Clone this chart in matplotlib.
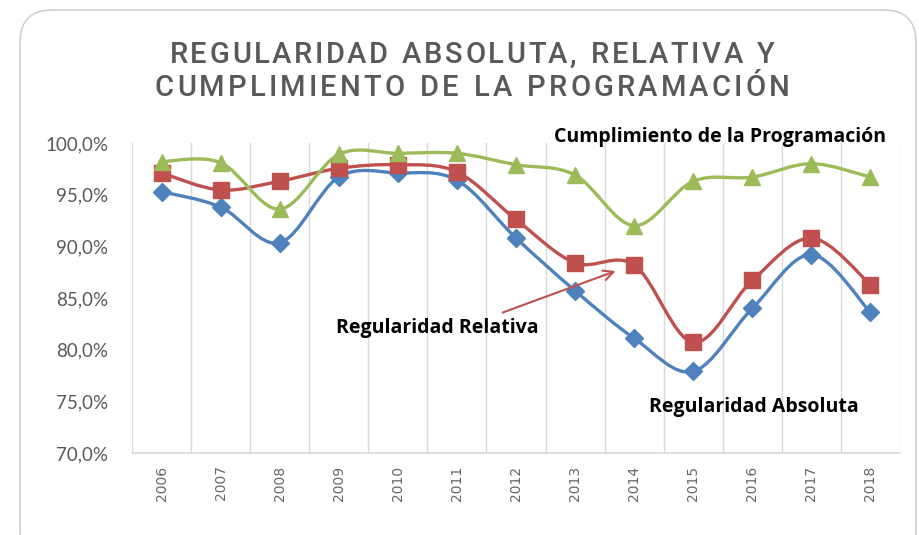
import numpy as np
import matplotlib
matplotlib.use("Agg")
import matplotlib.pyplot as plt
from matplotlib.path import Path
from matplotlib.patches import PathPatch, FancyBboxPatch

years = ["2006", "2007", "2008", "2009", "2010", "2011", "2012",
         "2013", "2014", "2015", "2016", "2017", "2018"]
absoluta = [95.3, 93.8, 90.35, 96.7, 97.1, 96.4, 90.8, 85.7, 81.1, 77.9, 84.0, 89.2, 83.6]
relativa = [97.1, 95.45, 96.3, 97.55, 97.9, 97.2, 92.6, 88.4, 88.2, 80.7, 86.7, 90.8, 86.3]
cumplimiento = [98.2, 98.1, 93.6, 98.9, 99.0, 99.0, 97.9, 96.9, 92.0, 96.3, 96.7, 98.0, 96.7]
yticks = [70, 75, 80, 85, 90, 95, 100]

blue = "#4f81bd"
red = "#c0504d"
green = "#9bbb59"
gray = "#595959"


def smooth_path(xs, ys):
    # excel-style smoothed line: bezier through every point
    pts = np.column_stack([xs, ys]).astype(float)
    n = len(pts)
    verts = [pts[0]]
    codes = [Path.MOVETO]
    for i in range(n - 1):
        p0 = pts[max(i - 1, 0)]
        p1 = pts[i]
        p2 = pts[i + 1]
        p3 = pts[min(i + 2, n - 1)]
        c1 = p1 + (p2 - p0) / 6.0
        c2 = p2 - (p3 - p1) / 6.0
        verts += [c1, c2, p2]
        codes += [Path.CURVE4] * 3
    return Path(verts, codes)


def spaced_text(fig, s, cx, cy, width, **kw):
    # place each letter so the line fills the given width (pixels)
    r = fig.canvas.get_renderer()
    ws = []
    for ch in s:
        t = fig.text(0, 0, ch if ch != " " else "n", **kw)
        ws.append(t.get_window_extent(r).width * (0.55 if ch == " " else 1.0))
        t.remove()
    gap = (width - sum(ws)) / (len(s) - 1)
    xp = cx - width / 2
    for ch, w in zip(s, ws):
        if ch != " ":
            fig.text(xp / 919, 1 - cy / 535, ch, ha="left", va="center", **kw)
        xp += w + gap


fig = plt.figure(figsize=(9.19, 5.35), dpi=100)
fig.patch.set_facecolor("white")

frame = FancyBboxPatch((20 / 919, -0.05), 896 / 919, 1.0 - 10 / 535 + 0.05,
                       boxstyle="round,pad=0,rounding_size=0.035",
                       transform=fig.transFigure, facecolor="none",
                       edgecolor="#d0d0d0", linewidth=1.2, mutation_aspect=919 / 535)
fig.patches.append(frame)

ax = fig.add_axes([132 / 919, 1 - 453 / 535, 768 / 919, 310 / 535])
ax.set_facecolor("none")
x = np.arange(len(years))
ax.set_xlim(-0.5, len(years) - 0.5)
ax.set_ylim(70, 100)

for b in np.arange(-0.5, len(years), 1.0):
    ax.axvline(b, color="#d9d9d9", lw=1.0, zorder=0)

for s in ["top", "right", "left"]:
    ax.spines[s].set_visible(False)
ax.spines["bottom"].set_color("#d9d9d9")
ax.spines["bottom"].set_linewidth(1.2)

series = [
    (absoluta, blue, "D", 9),
    (relativa, red, "s", 11),
    (cumplimiento, green, "^", 12),
]
for vals, col, mk, ms in series:
    ax.add_patch(PathPatch(smooth_path(x, vals), facecolor="none",
                           edgecolor=col, lw=2.4, zorder=3, capstyle="round"))
    ax.plot(x, vals, linestyle="none", marker=mk, markersize=ms,
            color=col, zorder=4)

ax.set_yticks(yticks)
ax.set_yticklabels([f"{v:.1f}%".replace(".", ",") for v in yticks],
                   fontsize=13.5, color=gray, family=["Lato", "DejaVu Sans"])
ax.set_xticks(x)
ax.set_xticklabels(years, rotation=90, fontsize=10, color="#666666")
ax.tick_params(axis="both", length=0)
ax.tick_params(axis="y", pad=17)
ax.tick_params(axis="x", pad=9)

tkw = dict(fontsize=21, color=gray, fontweight="medium",
           family=["Roboto", "DejaVu Sans"])
spaced_text(fig, "REGULARIDAD ABSOLUTA, RELATIVA Y", 472, 55, 605, **tkw)
spaced_text(fig, "CUMPLIMIENTO DE LA PROGRAMACIÓN", 472, 88, 635, **tkw)

lab = dict(fontsize=14, fontweight="bold", color="black",
           family=["Open Sans", "DejaVu Sans"], ha="center", va="center", clip_on=False)
ax.text(9.45, 100.6, "Cumplimiento de la Programación", **lab)
ax.text(4.66, 82.1, "Regularidad Relativa", **lab)
ax.text(10.03, 74.45, "Regularidad Absoluta", **lab)

ax.annotate("", xy=(7.73, 87.7), xytext=(5.73, 83.5),
            arrowprops=dict(arrowstyle="->", color=red, lw=1.5,
                            mutation_scale=18), zorder=5)

fig.savefig("out.png", dpi=100, facecolor="white")
